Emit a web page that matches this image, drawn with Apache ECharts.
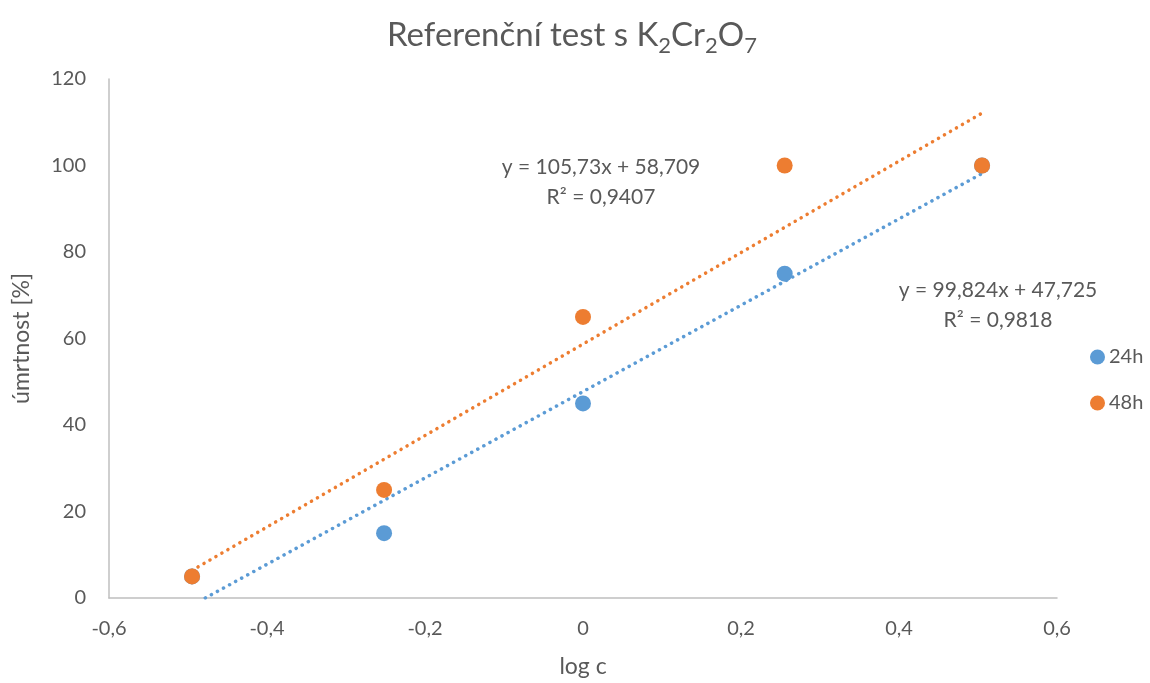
<!DOCTYPE html>
<html>
<head>
<meta charset="utf-8">
<script src="https://cdn.jsdelivr.net/npm/echarts@6/dist/echarts.min.js"></script>
<style>
  html, body { margin: 0; padding: 0; background: #fff; }
  #chart { width: 1150px; height: 683px; }
</style>
</head>
<body>
<div id="chart"></div>
<script>
// log of concentration and mortality (%) after 24 h and 48 h
const logC = [-0.4949, -0.2518, 0, 0.2553, 0.5051];
const mort24 = [5, 15, 45, 75, 100];
const mort48 = [5, 25, 65, 100, 100];

// linear trend lines: [slope, intercept, R²]
const trend24 = [99.824, 47.725, 0.9818];
const trend48 = [105.73, 58.709, 0.9407];

const xTicks = [-0.6, -0.4, -0.2, 0, 0.2, 0.4, 0.6];
const yTicks = [0, 20, 40, 60, 80, 100, 120];

const BLUE = '#5B9BD5';
const ORANGE = '#ED7D31';
const TEXT = '#595959';
const FONT = 'Lato, "Open Sans", sans-serif';

const fmt = (v, d) => v.toFixed(d).replace('.', ',');

function trendLine(t) {
  const x0 = Math.min(...logC), x1 = Math.max(...logC);
  // start where the line meets y = 0 if it would go below the axis
  const xs = Math.max(x0, -t[1] / t[0]);
  return [[xs, t[0] * xs + t[1]], [x1, t[0] * x1 + t[1]]];
}

const chart = echarts.init(document.getElementById('chart'));

const dotted = color => ({
  color: color, width: 3.5, type: [0.1, 6.8], cap: 'round'
});

chart.setOption({
  animation: false,
  backgroundColor: '#fff',
  textStyle: { fontFamily: FONT },
  title: {
    text: 'Referenční test s K{s|2}Cr{s|2}O{s|7}',
    left: 382,
    top: 8,
    textStyle: {
      fontFamily: FONT, fontSize: 33, fontWeight: 'normal', color: TEXT,
      rich: {
        s: { fontFamily: FONT, fontSize: 22, color: TEXT, padding: [22, 0, 0, 0] }
      }
    }
  },
  grid: { left: 109, right: 93, top: 79, bottom: 83, containLabel: false },
  legend: {
    orient: 'vertical',
    left: 1090,
    top: 347,
    padding: 0,
    itemGap: 26,
    itemWidth: 15,
    itemHeight: 15,
    icon: 'circle',
    textStyle: { fontFamily: FONT, fontSize: 20, color: TEXT, padding: [0, 0, 0, -1] },
    data: ['24h', '48h']
  },
  xAxis: {
    type: 'value',
    min: xTicks[0], max: xTicks[xTicks.length - 1], interval: 0.2,
    name: 'log c',
    nameLocation: 'middle',
    nameGap: 57,
    nameTextStyle: { fontFamily: FONT, fontSize: 23, color: TEXT },
    axisLine: { show: true, onZero: false, lineStyle: { color: '#BFBFBF', width: 1.5 } },
    axisTick: { show: false },
    splitLine: { show: false },
    axisLabel: {
      fontFamily: FONT, fontSize: 20, color: TEXT, margin: 21,
      formatter: v => (Math.abs(v) < 1e-9 ? '0' : fmt(v, 1))
    }
  },
  yAxis: {
    type: 'value',
    min: yTicks[0], max: yTicks[yTicks.length - 1], interval: 20,
    name: 'úmrtnost [%]',
    nameLocation: 'middle',
    nameGap: 76,
    nameRotate: 90,
    nameTextStyle: { fontFamily: FONT, fontSize: 23, color: TEXT },
    axisLine: { show: true, onZero: false, lineStyle: { color: '#BFBFBF', width: 1.5 } },
    axisTick: { show: false },
    splitLine: { show: false },
    axisLabel: { fontFamily: FONT, fontSize: 20, color: TEXT, margin: 23 }
  },
  series: [
    {
      name: 'trend 24h', type: 'line', data: trendLine(trend24),
      showSymbol: false, symbol: 'none', lineStyle: dotted(BLUE), z: 1
    },
    {
      name: 'trend 48h', type: 'line', data: trendLine(trend48),
      showSymbol: false, symbol: 'none', lineStyle: dotted(ORANGE), z: 1
    },
    {
      name: '24h', type: 'scatter', symbolSize: 16,
      itemStyle: { color: BLUE, opacity: 1 },
      data: logC.map((x, i) => [x, mort24[i]]), z: 3
    },
    {
      name: '48h', type: 'scatter', symbolSize: 16,
      itemStyle: { color: ORANGE, opacity: 1 },
      data: logC.map((x, i) => [x, mort48[i]]), z: 4
    }
  ],
  graphic: [
    {
      type: 'text',
      style: {
        text: 'y = ' + fmt(trend48[0], 2) + 'x + ' + fmt(trend48[1], 3) + '\nR² = ' + fmt(trend48[2], 4),
        align: 'center', font: '21px ' + FONT, fill: TEXT, lineHeight: 30
      },
      x: 601, y: 152
    },
    {
      type: 'text',
      style: {
        text: 'y = ' + fmt(trend24[0], 3) + 'x + ' + fmt(trend24[1], 3) + '\nR² = ' + fmt(trend24[2], 4),
        align: 'center', font: '21px ' + FONT, fill: TEXT, lineHeight: 30
      },
      x: 998, y: 275
    }
  ]
});
</script>
</body>
</html>
